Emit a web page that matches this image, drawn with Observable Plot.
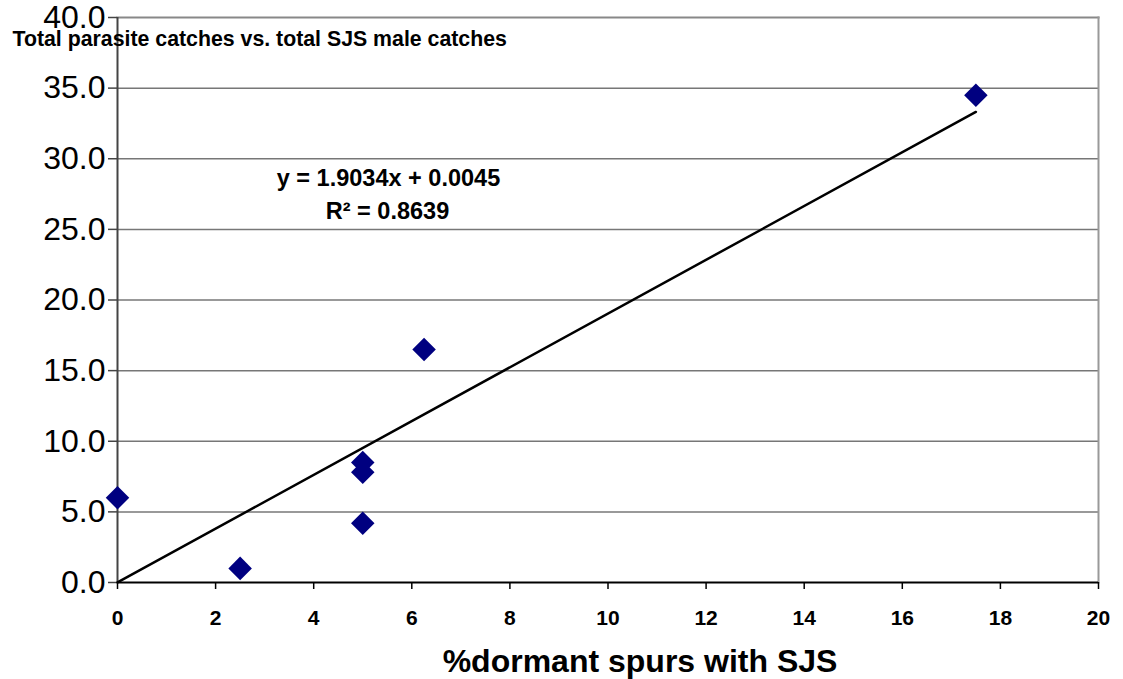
<!DOCTYPE html>
<html>
<head>
<meta charset="utf-8">
<script src="https://cdn.jsdelivr.net/npm/d3@7"></script>
<script src="https://cdn.jsdelivr.net/npm/@observablehq/plot@0.6"></script>
<style>
  html, body { margin: 0; padding: 0; background: #fff; }
  #chart svg { display: block; font-family: "Liberation Sans", Arial, sans-serif; }
  g[aria-label="y-axis tick label"] text { font-size: 32px; font-weight: normal; }
  g[aria-label="x-axis tick label"] text { font-size: 21px; font-weight: bold; }
</style>
</head>
<body>
<div id="chart"></div>
<script>
// ---- data ----
const dormantSpursPct = [0, 2.5, 5, 5, 5, 6.25, 17.5];
const parasiteCatches = [6.0, 1.0, 8.5, 7.8, 4.2, 16.5, 34.5];
const trendSlope = 1.9034;
const trendIntercept = 0.0045;
const trendR2 = 0.8639;
const xTicks = [0, 2, 4, 6, 8, 10, 12, 14, 16, 18, 20];
const yTicks = [0, 5, 10, 15, 20, 25, 30, 35, 40];
const chartTitle = "Total parasite catches vs. total SJS male catches";
const xTitle = "%dormant spurs with SJS";

// ---- derived tables ----
const points = dormantSpursPct.map((x, i) => ({x, y: parasiteCatches[i]}));
const [xmin, xmax] = d3.extent(dormantSpursPct);
const trend = [xmin, xmax].map(x => ({x, y: trendSlope * x + trendIntercept}));
const eqLine1 = `y = ${trendSlope.toFixed(4)}x + ${trendIntercept.toFixed(4)}`;
const eqLine2 = `R² = ${trendR2.toFixed(4)}`;

const chart = Plot.plot({
  width: 1123,
  height: 679,
  marginLeft: 117,
  marginRight: 25,
  marginTop: 17,
  marginBottom: 97,
  style: {fontFamily: '"Liberation Sans", Arial, sans-serif', color: "#000", background: "#fff"},
  x: {domain: [0, 20]},
  y: {domain: [0, 40]},
  marks: [
    Plot.gridY(yTicks.filter(d => d > 0 && d < 40), {stroke: "#777", strokeOpacity: 1, strokeWidth: 1.5}),
    Plot.frame({anchor: "top", stroke: "#888", strokeWidth: 2}),
    Plot.frame({anchor: "right", stroke: "#999", strokeWidth: 2}),
    Plot.axisY({ticks: yTicks, tickFormat: d => d.toFixed(1), tickSize: 9, tickPadding: 3, fontSize: 32, stroke: "#444", strokeWidth: 1.5, label: null}),
    Plot.axisX({ticks: xTicks, tickFormat: d => String(d), tickSize: 7, tickPadding: 21, fontSize: 21, fontWeight: "bold", stroke: "#000", strokeWidth: 1.5, label: null}),
    Plot.ruleX([0], {stroke: "#444", strokeWidth: 2}),
    Plot.ruleY([0], {stroke: "#000", strokeWidth: 2}),
    Plot.line(trend, {x: "x", y: "y", stroke: "#000", strokeWidth: 2.5}),
    Plot.dot(points, {x: "x", y: "y", symbol: "diamond2", r: 10.6, fill: "#000080", stroke: "none"}),
    Plot.text([eqLine1], {frameAnchor: "top-left", lineAnchor: "middle", dx: 271, dy: 161, text: d => d, textAnchor: "middle", fontSize: 23.5, fontWeight: "bold", fill: "#000"}),
    Plot.text([eqLine2], {frameAnchor: "top-left", lineAnchor: "middle", dx: 270, dy: 194, text: d => d, textAnchor: "middle", fontSize: 23.5, fontWeight: "bold", fill: "#000"}),
    Plot.text([chartTitle], {frameAnchor: "top-left", lineAnchor: "middle", dx: -105, dy: 22, text: d => d, textAnchor: "start", fontSize: 21.3, fontWeight: "bold", fill: "#000"}),
    Plot.text([xTitle], {frameAnchor: "bottom", lineAnchor: "middle", dx: 32, dy: 79, text: d => d, textAnchor: "middle", fontSize: 32, fontWeight: "bold", fill: "#000"})
  ]
});
document.getElementById("chart").appendChild(chart);
</script>
</body>
</html>
